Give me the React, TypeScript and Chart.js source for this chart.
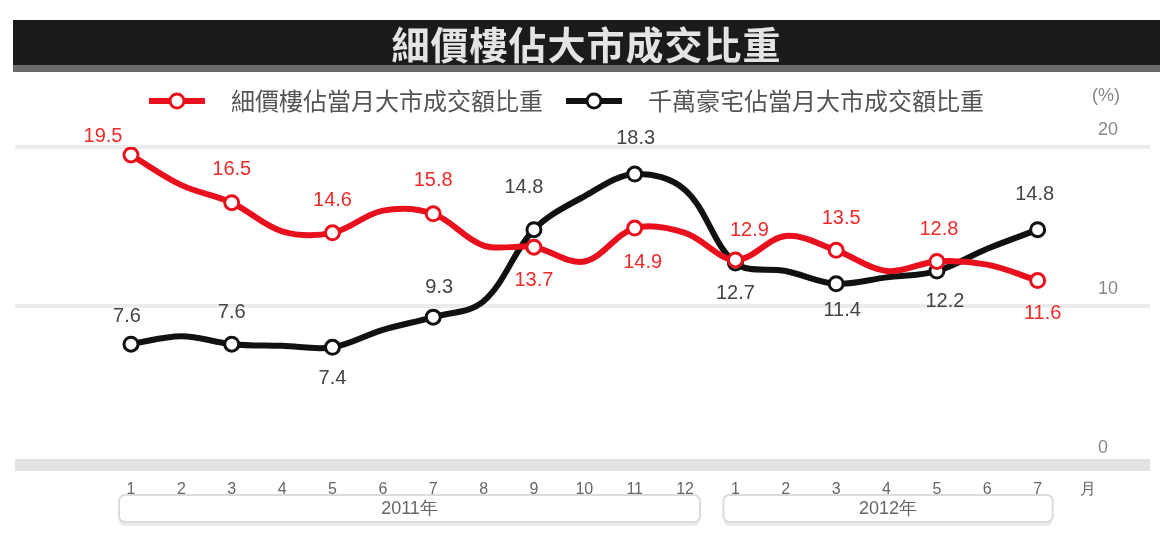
import { useEffect, useRef } from 'react';
import { Chart, registerables } from 'chart.js';

Chart.register(...registerables);

// months of 2011 and 2012, then the unit label at the end of the axis
const months2011 = ['1', '2', '3', '4', '5', '6', '7', '8', '9', '10', '11', '12'];
const months2012 = ['1', '2', '3', '4', '5', '6', '7'];
const unitLabel = '月';
const yearLabels = ['2011年', '2012年'];

const smallFlatShare = [19.5, 17.6, 16.5, 14.7, 14.6, 16.0, 15.8, 13.8, 13.7, 12.8, 14.9, 14.6, 12.9, 14.4, 13.5, 12.2, 12.8, 12.6, 11.6];
const luxuryShare = [7.6, 8.1, 7.6, 7.5, 7.4, 8.5, 9.3, 10.3, 14.8, 16.9, 18.3, 17.3, 12.7, 12.2, 11.4, 11.8, 12.2, 13.6, 14.8];
const yTicks = [0, 10, 20];

const titleText = '細價樓佔大市成交比重';
const seriesNames = ['細價樓佔當月大市成交額比重', '千萬豪宅佔當月大市成交額比重'];

// where each value label sits relative to its marker (odd months only)
const redLabelOffsets = [[-28, -18], [0, -33], [0, -32], [0, -33], [0, 33], [8, 34], [14, -29], [5, -32], [2, -32], [5, 33]];
const blackLabelOffsets = [[-4, -28], [0, -32], [0, 31], [6, -30], [-10, -42], [1, -36], [0, 30], [6, 27], [8, 30], [-3, -35]];

const RED = '#e8101c';
const BLACK = '#111111';
const NUM_FONT = '"Liberation Sans", Arial, sans-serif';
const CJK_FONT = '"Noto Sans CJK TC", "Noto Sans CJK SC", sans-serif';

const wideGrid = {
    id: 'wideGrid',
    beforeDatasetsDraw(chart: any) {
        const y = chart.scales.y;
        const ctx = chart.ctx;
        ctx.save();
        yTicks.forEach((v) => {
            const py = y.getPixelForValue(v);
            ctx.strokeStyle = v === 0 ? '#e2e2e2' : '#ececec';
            ctx.lineWidth = v === 0 ? 12 : 4;
            ctx.beginPath();
            ctx.moveTo(15, py);
            ctx.lineTo(1150, py);
            ctx.stroke();
        });
        ctx.restore();
    },
};

const valueLabels = {
    id: 'valueLabels',
    afterDatasetsDraw(chart: any) {
        const ctx = chart.ctx;
        ctx.save();
        ctx.font = `20px ${NUM_FONT}`;
        ctx.textAlign = 'center';
        ctx.textBaseline = 'middle';
        chart.data.datasets.forEach((ds: any, di: number) => {
            const meta = chart.getDatasetMeta(di);
            ctx.fillStyle = ds.labelColor;
            ds.data.forEach((v: number, i: number) => {
                if (i % 2 !== 0) return;
                const pt = meta.data[i];
                const [dx, dy] = ds.labelOffsets[i / 2];
                ctx.fillText(v.toFixed(1), pt.x + dx, pt.y + dy);
            });
        });
        ctx.restore();
    },
};

const legendAndFrame = {
    id: 'legendAndFrame',
    afterDraw(chart: any) {
        const ctx = chart.ctx;
        ctx.save();

        // legend
        let x = 149;
        const ly = 101;
        chart.data.datasets.forEach((ds: any) => {
            ctx.strokeStyle = ds.borderColor;
            ctx.lineWidth = 6;
            ctx.beginPath();
            ctx.moveTo(x, ly);
            ctx.lineTo(x + 56, ly);
            ctx.stroke();
            ctx.fillStyle = '#fff';
            ctx.lineWidth = 3;
            ctx.beginPath();
            ctx.arc(x + 28, ly, 7, 0, Math.PI * 2);
            ctx.fill();
            ctx.stroke();
            ctx.font = `24px ${CJK_FONT}`;
            ctx.fillStyle = '#555';
            ctx.textAlign = 'left';
            ctx.textBaseline = 'middle';
            ctx.fillText(ds.label, x + 82, ly);
            x += 82 + ctx.measureText(ds.label).width + 23;
        });

        // unit
        ctx.font = `18px ${NUM_FONT}`;
        ctx.fillStyle = '#888';
        ctx.textAlign = 'center';
        ctx.fillText('(%)', 1106, 96);

        // year brackets under the month labels
        const xs = chart.scales.x;
        let start = 0;
        [months2011.length, months2012.length].forEach((n, k) => {
            const x0 = xs.getPixelForValue(start) - 12;
            const x1 = xs.getPixelForValue(start + n - 1) + 15;
            const top = 495;
            const h = 27;
            ctx.fillStyle = '#ececec';
            ctx.beginPath();
            ctx.roundRect(x0, top + 4, x1 - x0, h, 6);
            ctx.fill();
            ctx.fillStyle = '#fff';
            ctx.strokeStyle = '#dcdcdc';
            ctx.lineWidth = 2;
            ctx.beginPath();
            ctx.roundRect(x0, top, x1 - x0, h, 6);
            ctx.fill();
            ctx.stroke();
            ctx.font = `18px ${NUM_FONT}`;
            ctx.fillStyle = '#666';
            ctx.textAlign = 'center';
            ctx.textBaseline = 'middle';
            ctx.fillText(yearLabels[k], (x0 + x1) / 2, top + h / 2 + 1);
            start += n;
        });

        ctx.restore();
    },
};

const App = () => {
    const canvasRef = useRef<HTMLCanvasElement | null>(null);
    const chartRef = useRef<Chart | null>(null);

    useEffect(() => {
        if (!canvasRef.current) return;
        if (chartRef.current) chartRef.current.destroy();

        const markerRadius = (c: any) => (c.dataIndex % 2 === 0 ? 7 : 0);

        chartRef.current = new Chart(canvasRef.current, {
            type: 'line',
            data: {
                labels: [...months2011, ...months2012, unitLabel],
                datasets: [
                    {
                        label: seriesNames[0],
                        data: smallFlatShare,
                        borderColor: RED,
                        borderWidth: 6,
                        tension: 0.35,
                        pointRadius: markerRadius,
                        pointBorderWidth: 3,
                        pointBackgroundColor: '#fff',
                        pointBorderColor: RED,
                        labelColor: '#ee2a2a',
                        labelOffsets: redLabelOffsets,
                    } as any,
                    {
                        label: seriesNames[1],
                        data: luxuryShare,
                        borderColor: BLACK,
                        borderWidth: 6,
                        tension: 0.35,
                        pointRadius: markerRadius,
                        pointBorderWidth: 3,
                        pointBackgroundColor: '#fff',
                        pointBorderColor: BLACK,
                        labelColor: '#444',
                        labelOffsets: blackLabelOffsets,
                    } as any,
                ],
            },
            options: {
                animation: false,
                responsive: true,
                maintainAspectRatio: false,
                layout: { padding: { top: 147, left: 131, right: 43, bottom: 0 } },
                plugins: {
                    legend: { display: false },
                    tooltip: { enabled: false },
                },
                scales: {
                    x: {
                        offset: false,
                        grid: { display: false },
                        border: { display: false },
                        ticks: {
                            padding: 7,
                            color: '#666',
                            font: { family: NUM_FONT, size: 16 },
                            maxRotation: 0,
                            autoSkip: false,
                        },
                        afterFit: (scale: any) => {
                            scale.height = 75;
                        },
                    },
                    y: {
                        position: 'right',
                        min: 0,
                        max: 20,
                        afterBuildTicks: (scale: any) => {
                            scale.ticks = yTicks.map((v) => ({ value: v }));
                        },
                        grid: { display: false, drawTicks: false },
                        border: { display: false },
                        ticks: {
                            padding: 10,
                            labelOffset: -17,
                            color: '#888',
                            font: { family: NUM_FONT, size: 18 },
                        },
                        afterFit: (scale: any) => {
                            scale.width = 40;
                        },
                    },
                },
            },
            plugins: [wideGrid, valueLabels, legendAndFrame],
        });

        return () => {
            if (chartRef.current) {
                chartRef.current.destroy();
                chartRef.current = null;
            }
        };
    }, []);

    return (
        <div style={{ position: 'absolute', left: 0, top: 0, width: '1171px', height: '540px', background: '#fff' }}>
            <div
                style={{
                    position: 'absolute',
                    left: '13px',
                    top: '20px',
                    width: '1147px',
                    height: '45px',
                    background: '#1b1b1b',
                    borderBottom: '7px solid #6a6a6a',
                    color: '#e4e4e4',
                    fontFamily: CJK_FONT,
                    fontWeight: 700,
                    fontSize: '38px',
                    lineHeight: '45px',
                    textAlign: 'center',
                    letterSpacing: '1px',
                }}
            >
                {titleText}
            </div>
            <canvas ref={canvasRef}></canvas>
        </div>
    );
};

export default App;
